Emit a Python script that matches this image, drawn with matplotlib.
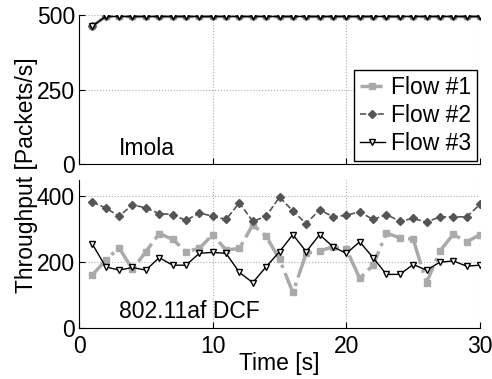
import numpy as np
import matplotlib.pyplot as plt

plt.rcParams['font.family'] = ['Liberation Sans', 'DejaVu Sans']

t = np.arange(1, 31)

# Imola (top panel)
imola_f1 = [463] + [495] * 29
imola_f2 = [463] + [495] * 29
imola_f3 = [463] + [495] * 29

# 802.11af DCF (bottom panel)
dcf_f1 = [161, 207, 244, 178, 232, 287, 270, 232, 242, 284,
          237, 242, 314, 279, 209, 108, 227, 234, 247, 240,
          151, 191, 289, 274, 270, 138, 234, 285, 262, 284]
dcf_f2 = [383, 365, 340, 375, 365, 348, 345, 327, 350, 340,
          330, 381, 324, 340, 398, 356, 317, 360, 338, 343,
          353, 330, 345, 325, 333, 322, 338, 338, 338, 376]
dcf_f3 = [255, 186, 176, 184, 176, 214, 191, 191, 227, 230,
          227, 169, 138, 186, 232, 284, 232, 284, 247, 227,
          262, 214, 163, 163, 193, 176, 200, 204, 188, 191]

labels = ['Flow #1', 'Flow #2', 'Flow #3']
styles = [
    dict(color='#aaaaaa', ls='-.', lw=2.5, marker='s', ms=4.5, mfc='#aaaaaa', mec='#aaaaaa'),
    dict(color='#555555', ls='--', lw=1.2, marker='D', ms=4.5, mfc='#555555', mec='#555555'),
    dict(color='black', ls='-', lw=1.0, marker='v', ms=5, mfc='white', mec='black'),
]

fs = 16.5
fig = plt.figure(figsize=(4.92, 3.79), dpi=100)
ax1 = fig.add_axes([0.1606, 0.5673, 0.815, 0.3931])
ax2 = fig.add_axes([0.1606, 0.1346, 0.815, 0.3904])

for ax in (ax1, ax2):
    ax.spines['top'].set_visible(False)
    ax.spines['right'].set_visible(False)
    ax.grid(True, ls=':', color='#b0b0b0', lw=0.8)
    ax.tick_params(direction='in', labelsize=fs, length=4)
    ax.tick_params(axis='y', pad=3)
    ax.tick_params(axis='x', pad=5)
    ax.set_xlim(0, 30)
    ax.set_xticks([0, 10, 20, 30])

for y, st, lab in zip([imola_f1, imola_f2, imola_f3], styles, labels):
    ax1.plot(t, y, label=lab, **st)
ax1.set_ylim(0, 500)
ax1.set_yticks([0, 250, 500])
ax1.tick_params(labelbottom=False)
ax1.text(3.0, 30, 'Imola', fontsize=fs)
ax1.legend(loc='lower right', fontsize=fs, frameon=True, fancybox=False,
           edgecolor='black', framealpha=1, handlelength=1.1, handletextpad=0.25,
           borderpad=0.25, labelspacing=0.22, borderaxespad=0.15)

for y, st in zip([dcf_f1, dcf_f2, dcf_f3], styles):
    ax2.plot(t, y, **st)
ax2.set_ylim(0, 450)
ax2.set_yticks([0, 200, 400])
ax2.text(3.0, 30, '802.11af DCF', fontsize=fs)
ax2.set_xlabel('Time [s]', fontsize=fs, labelpad=-4)

fig.text(0.053, 0.538, 'Throughput [Packets/s]', rotation=90, fontsize=fs,
         ha='center', va='center')

fig.savefig('out.png', dpi=100)
